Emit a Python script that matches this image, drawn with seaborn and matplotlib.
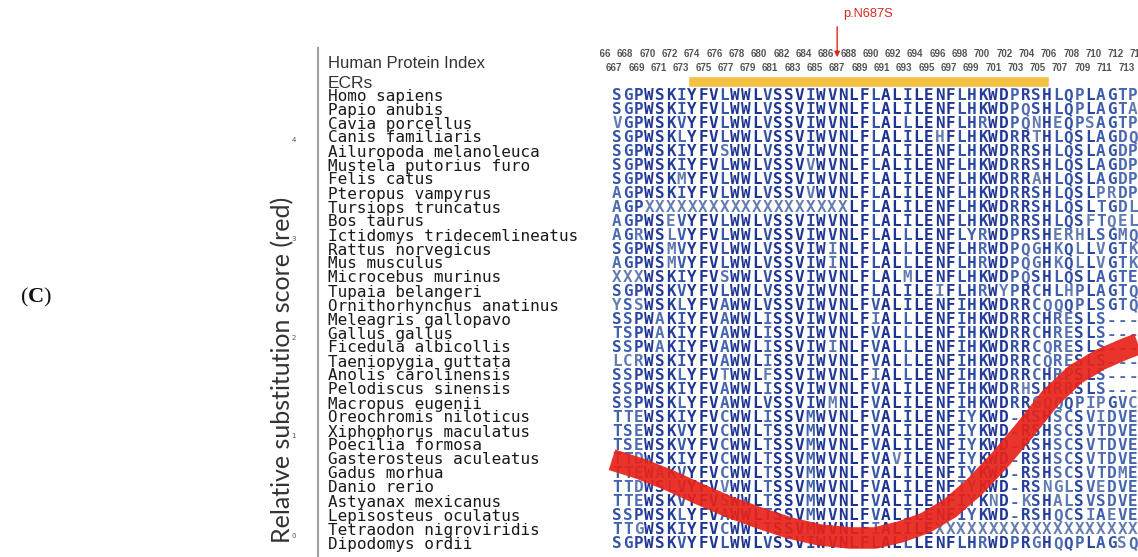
import numpy as np
import pandas as pd
import matplotlib
matplotlib.use("Agg")
import matplotlib.pyplot as plt
from matplotlib.colors import LinearSegmentedColormap
import seaborn as sns

# species in the alignment, top to bottom
species = ['Homo sapiens', 'Papio anubis', 'Cavia porcellus', 'Canis familiaris',
           'Ailuropoda melanoleuca', 'Mustela putorius furo', 'Felis catus',
           'Pteropus vampyrus', 'Tursiops truncatus', 'Bos taurus',
           'Ictidomys tridecemlineatus', 'Rattus norvegicus', 'Mus musculus',
           'Microcebus murinus', 'Tupaia belangeri', 'Ornithorhynchus anatinus',
           'Meleagris gallopavo', 'Gallus gallus', 'Ficedula albicollis',
           'Taeniopygia guttata', 'Anolis carolinensis', 'Pelodiscus sinensis',
           'Macropus eugenii', 'Oreochromis niloticus', 'Xiphophorus maculatus',
           'Poecilia formosa', 'Gasterosteus aculeatus', 'Gadus morhua',
           'Danio rerio', 'Astyanax mexicanus', 'Lepisosteus oculatus',
           'Tetraodon nigroviridis', 'Dipodomys ordii']

sequences = [
    'SGPWSKIYFVLWWLVSSVIWVNLFLALILENFLHKWDPRSHLQPLAGTP',
    'SGPWSKIYFVLWWLVSSVIWVNLFLALILENFLHKWDPQSHLQPLAGTA',
    'VGPWSKVYFVLWWLVSSVIWVNLFLALLLENFLHRWDPQNHEQPSAGTP',
    'SGPWSKLYFVLWWLVSSVIWVNLFLALILEHFLHKWDRRTHLQSLAGDQ',
    'SGPWSKIYFVSWWLVSSVIWVNLFLALILENFLHKWDRRSHLQSLAGDP',
    'SGPWSKIYFVLWWLVSSVVWVNLFLALILENFLHKWDRRSHLQSLAGDP',
    'SGPWSKMYFVLWWLVSSVIWVNLFLALILENFLHKWDRRAHLQSLAGDP',
    'AGPWSKIYFVLWWLVSSVVWVNLFLALILENFLHKWDRRSHLQSLPRDP',
    'AGPXXXXXXXXXXXXXXXXXXXLFLALILENFLHKWDRRSHLQSLTGDL',
    'AGPWSEVYFVLWWLVSSVIWVNLFLALILENFLHKWDRRSHLQSFTQEL',
    'AGRWSLVYFVLWWLVSSVIWVNLFLALLLENFLYRWDPRSHERHLSGMQ',
    'SGPWSMVYFVLWWLVSSVIWINLFLALLLENFLHRWDPQGHKQLLVGTK',
    'AGPWSMVYFVLWWLVSSVIWINLFLALLLENFLHRWDPQGHKQLLVGTK',
    'XXXWSKIYFVSWWLVSSVIWVNLFLALMLENFLHKWDPQSHLQSLAGTE',
    'SGPWSKVYFVLWWLVSSVIWVNLFLALILEIFLHRWYPRCHLHPLAGTQ',
    'YSSWSKLYFVAWWLVSSVIWVNLFVALILENFIHKWDRRCQQQPLSGTQ',
    'SSPWAKIYFVAWWLISSVIWVNLFIALLLENFIHKWDRRCHRESLS---',
    'TSPWAKIYFVAWWLISSVIWVNLFVALLLENFIHKWDRRCHRESLS---',
    'SSPWAKIYFVAWWLISSVIWINLFVALLLENFIHKWDRRCQRESLS---',
    'LCRWSKIYFVAWWLISSVIWVNLFVALLLENFIHKWDRRCQRESLS---',
    'SSPWSKLYFVTWWLFSSVIWVNLFIALLLENFIHKWDRRCHRPSLS---',
    'SSPWSKIYFVAWWLISSVIWVNLFVALILENFIHKWDRHSHRRSLS---',
    'SSPWSKLYFVAWWLVSSVIWMNLFVALILENFIHKWDRRGQQQPIPGVC',
    'TTEWSKIYFVCWWLISSVMWVNLFVALILENFIYKWD-RSHSCSVIDVE',
    'TSEWSKVYFVCWWLTSSVMWVNLFVALILENFIYKWD-RSHSCSVTDVE',
    'TSEWSKVYFVCWWLTSSVMWVNLFVALILENFIYKWD-RSHSCSVTDVE',
    'TTDWSKIYFVCWWLTSSVMWVNLFVAVILENFIYKWD-RSHSCSVTDVE',
    'TTEWAKVYFVCWWLTSSVMWVNLFVALILENFIYKWD-RSHSCSVTDME',
    'TTDWSLVYFVVWWLTSSVMWVNLFVALILENFTYKWD-RSNGLSVEDVE',
    'TTEWSKVYFVSWWLTSSVMWVNLFVALILENFIYKND-KSHALSVSDVE',
    'SSPWSKLYFVAWWLTSSVMWVNLFVALILENFIYKWD-RSHQCSIAEVE',
    'TTGWSKIYFVCWWLTSSVMWVNLFIALILEXXXXXXXXXXXXXXXXXXX',
    'SGPWSKVYFVLWWLVSSVIWVNLFLALLLENFLHRWDPRGHQQPLAGSQ',
]

# relative substitution score (red curve), by alignment column
score_col = [-0.47, 2.14, 4.93, 7.72, 10.51, 13.30, 16.09, 18.88, 21.67, 24.00,
             26.33, 28.65, 30.98, 33.30, 35.63, 37.95, 40.28, 42.60, 44.93, 47.26, 48.47]
score_val = [0.76, 0.67, 0.55, 0.41, 0.28, 0.17, 0.07, 0.0, -0.03, -0.03,
             0.03, 0.12, 0.27, 0.49, 0.76, 1.06, 1.38, 1.62, 1.77, 1.88, 1.93]
score_ticks = [0, 1, 2, 3, 4]

# human protein index header
index_even = list(range(664, 717, 2))
index_odd = list(range(663, 716, 2))
ecr_start, ecr_end = 673.6, 706.0
variant_pos = 687
variant_label = 'p.N687S'

sns.set_theme(style='white')
plt.rcParams['font.family'] = ['DejaVu Sans']
plt.rcParams['mathtext.fontset'] = 'custom'
plt.rcParams['mathtext.rm'] = 'Liberation Serif'
plt.rcParams['mathtext.bf'] = 'Liberation Serif:bold'

W, H = 1138, 557
fig = plt.figure(figsize=(W / 100, H / 100), dpi=100)


def box(x0, y0, x1, y1):
    # pixel box (top-left origin) -> figure fraction
    return [x0 / W, 1 - y1 / H, (x1 - x0) / W, (y1 - y0) / H]


col0_px, col_w = 617, 10.75
row0_px, row_h = 95, 14.0

# ---- alignment ----
ax = fig.add_axes(box(318, 48, 1138, 557))
ax.set_xlim((318 - col0_px) / col_w, (1138 - col0_px) / col_w)
ax.set_ylim((557 - row0_px) / row_h, (48 - row0_px) / row_h)
ax.axis('off')

letters = pd.DataFrame([(r, c, ch) for r, s in enumerate(sequences) for c, ch in enumerate(s)],
                       columns=['row', 'col', 'aa'])
letters['freq'] = letters.groupby(['col', 'aa'])['aa'].transform('size') / len(sequences)
cmap = LinearSegmentedColormap.from_list('cons', ['#6f86b4', '#3d5fae', '#1c3393'])

base = 5.5 / row_h
for r, name in enumerate(species):
    ax.text(0.012, r + base, name, transform=ax.get_yaxis_transform(),
            family='DejaVu Sans Mono', fontsize=11.5, color='#1a1a1a', va='baseline')

for row in letters.itertuples():
    ax.text(row.col, row.row + base, row.aa, ha='center', va='baseline',
            family='DejaVu Sans Mono', fontweight='bold', fontsize=11.5,
            color=cmap(min(1.0, row.freq ** 0.6)))

fig.text(328 / W, 1 - 68 / H, 'Human Protein Index', fontsize=12,
         family='Liberation Sans', color='#333333', va='baseline')
fig.text(328 / W, 1 - 88 / H, 'ECRs', fontsize=12.5,
         family='Liberation Sans', color='#333333', va='baseline')

# ---- header: protein index, ECR bar, variant ----
hx = fig.add_axes(box(600, 0, 1138, 95))
hx.set_xlim(666 + (600 - 603) / 11.15, 666 + (1138 - 603) / 11.15)
hx.set_ylim(95, 0)
hx.axis('off')
for p in index_even:
    hx.text(p, 54, str(p), ha='center', va='center', fontsize=7, fontweight='bold',
            family='Liberation Sans', color='#555555', clip_on=True)
for p in index_odd:
    hx.text(p, 68, str(p), ha='center', va='center', fontsize=7, fontweight='bold',
            family='Liberation Sans', color='#555555', clip_on=True)
hx.barh(81.5, ecr_end - ecr_start, left=ecr_start, height=11.5, color='#f4c242')
hx.annotate('', xy=(variant_pos, 60), xytext=(variant_pos, 24),
            arrowprops=dict(arrowstyle='-|>', color='#e0281e', lw=1, mutation_scale=8))
hx.text(variant_pos + 0.5, 14, variant_label, ha='left', va='center', fontsize=9.3,
        family='Liberation Sans', color='#d9281e')

# ---- substitution score axis + curve ----
ay = fig.add_axes(box(318, 48, 1138, 557))
ay.patch.set_visible(False)
ay.set_xlim(ax.get_xlim())
ay.set_ylim(-(557 - 535) / 99, (535 - 48) / 99)
sns.lineplot(x=score_col, y=score_val, ax=ay, color='#e8231a', linewidth=15.5, alpha=0.92,
             estimator=None, sort=False, solid_capstyle='butt', solid_joinstyle='round')
for side in ['top', 'right', 'bottom']:
    ay.spines[side].set_visible(False)
ay.spines['left'].set_color('#a0a0a0')
ay.spines['left'].set_linewidth(1.5)
ay.set_xticks([])
ay.set_yticks(score_ticks)
ay.tick_params(axis='y', length=0, pad=16, labelsize=5, labelcolor='#555555')
ay.set_ylabel('Relative substitution score (red)', fontsize=18, family='Lato', color='#333333')
ay.yaxis.set_label_coords((294 - 318) / 820, (557 - 370) / 509)

fig.text(20 / W, 1 - 297 / H, r'($\mathbf{C}$)', fontsize=16, family='Liberation Serif',
         va='center', color='#111111')

fig.savefig('out.png', dpi=100)
